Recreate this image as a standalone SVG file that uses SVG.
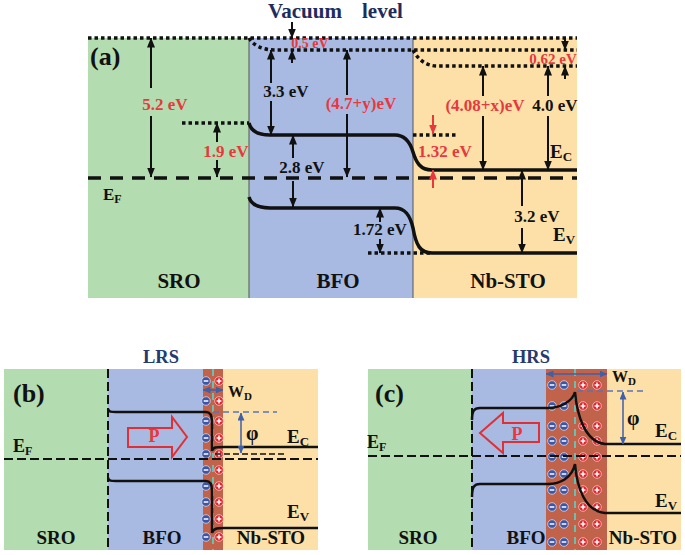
<svg xmlns="http://www.w3.org/2000/svg" width="685" height="555" viewBox="0 0 685 555">
<defs>
<style>
text { font-family: "Liberation Serif","Times New Roman",serif; font-weight: bold; fill: #111; }
.lbl { font-size: 17px; }
.red { fill: #e8383d; }
.navy { fill: #1f2d5e; }
.reg { font-size: 21px; }
.reg2 { font-size: 19px; }
.sub { font-size: 12px; }
.dot { fill: none; stroke: #111; stroke-width: 3.5; stroke-dasharray: 3.5 3; }
.dash { fill: none; stroke: #111; stroke-width: 3.5; stroke-dasharray: 13 9; }
.band { fill: none; stroke: #111; stroke-width: 3.5; }
.arr { stroke: #111; stroke-width: 2; marker-end: url(#ah); }
.arrR { stroke: #e8383d; stroke-width: 2; marker-end: url(#ahr); }
.band2 { fill: none; stroke: #111; stroke-width: 2.5; }
.dash2 { fill: none; stroke: #111; stroke-width: 2; stroke-dasharray: 9 4; }
.dash3 { fill: none; stroke: #111; stroke-width: 1.5; stroke-dasharray: 6 3; }
.teal { stroke: #62c2b4; stroke-width: 2; stroke-dasharray: 7 5; }
.bdash { stroke: #5b73b8; stroke-width: 1.5; stroke-dasharray: 6 4; }
.barr { stroke: #3f5fa8; stroke-width: 1.5; marker-start: url(#ahb); marker-end: url(#ahb); }
.parr { fill: none; stroke: #e03035; stroke-width: 2; }
.green { fill: #b3dcb0; }
.blue { fill: #a8b9e2; }
.yellow { fill: #fde0a8; }
.brown { fill: #c0634a; }
.iface { stroke: #555; stroke-width: 1; }
</style>
<marker id="ah" viewBox="0 0 10 8" refX="9.5" refY="4" markerWidth="10" markerHeight="8" markerUnits="userSpaceOnUse" orient="auto"><path d="M0,0 L10,4 L0,8 z" fill="#111"/></marker>
<marker id="ahr" viewBox="0 0 10 8" refX="9.5" refY="4" markerWidth="10" markerHeight="8" markerUnits="userSpaceOnUse" orient="auto"><path d="M0,0 L10,4 L0,8 z" fill="#e8383d"/></marker>
<marker id="ahb" viewBox="0 0 8 7" refX="7.5" refY="3.5" markerWidth="8" markerHeight="7" markerUnits="userSpaceOnUse" orient="auto-start-reverse"><path d="M0,0 L8,3.5 L0,7 z" fill="#3f5fa8"/></marker>
<g id="mn"><circle r="4.3" fill="#3d55a5" stroke="#d0d8f5" stroke-width="0.8"/><line x1="-2.3" x2="2.3" y1="0" y2="0" stroke="#fff" stroke-width="1.5"/></g>
<g id="pl"><circle r="4.3" fill="#e2262e" stroke="#f8c8c8" stroke-width="0.8"/><path d="M-2.4,0H2.4M0,-2.4V2.4" stroke="#fff" stroke-width="1.5"/></g>
</defs>

<!-- ===== Panel (a) ===== -->
<g id="panel-a">
  <rect class="green" x="88" y="38" width="161" height="260"/>
  <rect class="blue" x="249" y="38" width="164" height="260"/>
  <rect class="yellow" x="413" y="38" width="164" height="260"/>
  <line class="iface" x1="249" y1="38" x2="249" y2="298"/>
  <line class="iface" x1="413" y1="38" x2="413" y2="298"/>
  <text x="268" y="18" font-size="21" class="navy">Vacuum</text>
  <text x="362" y="18" font-size="21" class="navy">level</text>
  <text x="90" y="65" font-size="26">(a)</text>
</g>

<g id="levels-a">
  <line class="dot" x1="88" y1="38" x2="577" y2="38"/>
  <path class="dot" d="M249,38 C253,45 262,50 275,50 L577,50"/>
  <path class="dot" d="M413,50 C417,58 425,66 437,66 L577,66"/>
  <line class="dot" x1="182" y1="123" x2="249" y2="123"/>
  <line class="dot" x1="413" y1="135" x2="456" y2="135"/>
  <line class="dot" x1="368" y1="253" x2="432" y2="253"/>
  <line class="dash" x1="88" y1="178" x2="577" y2="178"/>
  <path class="band" d="M249,123 C251,131 258,135 270,135 L395,135 C405,135 410,142 413,152 C416,162 420,170 432,170 L577,170"/>
  <path class="band" d="M249,197 C251,204 258,208 270,208 L395,208 C405,208 410,215 413,228 C416,245 420,253 432,253 L577,253"/>
</g>

<g id="arrows-a">
  <line class="arr" x1="292" y1="22" x2="292" y2="38"/>
  <line class="arr" x1="292" y1="63" x2="292" y2="50"/>
  <line class="arr" x1="151" y1="88" x2="151" y2="38"/>
  <line class="arr" x1="151" y1="116" x2="151" y2="177"/>
  <line class="arr" x1="217" y1="142" x2="217" y2="123"/>
  <line class="arr" x1="217" y1="160" x2="217" y2="177"/>
  <line class="arr" x1="271" y1="83" x2="271" y2="50"/>
  <line class="arr" x1="271" y1="101" x2="271" y2="135"/>
  <line class="arr" x1="347" y1="95" x2="347" y2="50"/>
  <line class="arr" x1="347" y1="114" x2="347" y2="177"/>
  <line class="arr" x1="293" y1="158" x2="293" y2="135"/>
  <line class="arr" x1="293" y1="181" x2="293" y2="207"/>
  <line class="arr" x1="380" y1="222" x2="380" y2="208"/>
  <line class="arr" x1="380" y1="239" x2="380" y2="253"/>
  <line class="arrR" x1="433" y1="115" x2="433" y2="134"/>
  <line class="arrR" x1="433" y1="188" x2="433" y2="170"/>
  <line class="arr" x1="483" y1="96" x2="483" y2="66"/>
  <line class="arr" x1="483" y1="116" x2="483" y2="170"/>
  <line class="arr" x1="548" y1="96" x2="548" y2="66"/>
  <line class="arr" x1="548" y1="116" x2="548" y2="170"/>
  <line class="arr" x1="565" y1="39" x2="565" y2="50"/>
  <line class="arr" x1="565" y1="79" x2="565" y2="66"/>
  <line class="arr" x1="522" y1="206" x2="522" y2="170"/>
  <line class="arr" x1="522" y1="228" x2="522" y2="253"/>
</g>

<g id="labels-a">
  <text x="310" y="48" font-size="14" class="red" text-anchor="middle">0.5 eV</text>
  <text x="165" y="110" class="lbl red" text-anchor="middle">5.2 eV</text>
  <text x="226" y="157" class="lbl red" text-anchor="middle">1.9 eV</text>
  <text x="286" y="97" class="lbl" text-anchor="middle">3.3 eV</text>
  <text x="361" y="109" class="lbl red" text-anchor="middle">(4.7+y)eV</text>
  <text x="302" y="173" class="lbl" text-anchor="middle">2.8 eV</text>
  <text x="380" y="235" class="lbl" text-anchor="middle">1.72 eV</text>
  <text x="445" y="157" class="lbl red" text-anchor="middle">1.32 eV</text>
  <text x="485" y="111" class="lbl red" text-anchor="middle">(4.08+x)eV</text>
  <text x="555" y="111" class="lbl" text-anchor="middle">4.0 eV</text>
  <text x="553" y="64" font-size="15" class="red" text-anchor="middle">0.62 eV</text>
  <text x="537" y="222" class="lbl" text-anchor="middle">3.2 eV</text>
  <text x="103" y="200" font-size="17">E<tspan class="sub" dy="3">F</tspan></text>
  <text x="550" y="158" font-size="19">E<tspan font-size="13" dy="3">C</tspan></text>
  <text x="553" y="241" font-size="19">E<tspan font-size="13" dy="3">V</tspan></text>
  <text x="179" y="288" class="reg" text-anchor="middle">SRO</text>
  <text x="338" y="288" class="reg" text-anchor="middle">BFO</text>
  <text x="508" y="288" class="reg" text-anchor="middle">Nb-STO</text>
</g>

<!-- ===== Panel (b) ===== -->
<g id="panel-b">
  <rect class="green" x="4" y="369" width="104" height="181"/>
  <rect class="blue" x="108" y="369" width="95" height="181"/>
  <rect class="brown" x="203" y="369" width="20" height="181"/>
  <rect class="yellow" x="223" y="369" width="95" height="181"/>
  <line class="dash2" x1="108" y1="369" x2="108" y2="550"/>
  <line class="teal" x1="213" y1="369" x2="213" y2="550"/>
  <g id="charges-b">
    <use href="#mn" x="206" y="381"/><use href="#pl" x="219" y="381"/>
    <use href="#mn" x="206" y="401"/><use href="#pl" x="219" y="401"/>
    <use href="#mn" x="206" y="421"/><use href="#pl" x="219" y="421"/>
    <use href="#mn" x="206" y="438"/><use href="#pl" x="219" y="438"/>
    <use href="#mn" x="206" y="454"/><use href="#pl" x="219" y="454"/>
    <use href="#mn" x="206" y="470"/><use href="#pl" x="219" y="470"/>
    <use href="#mn" x="206" y="486"/><use href="#pl" x="219" y="486"/>
    <use href="#mn" x="206" y="502"/><use href="#pl" x="219" y="502"/>
    <use href="#mn" x="206" y="519"/><use href="#pl" x="219" y="519"/>
    <use href="#mn" x="206" y="537"/><use href="#pl" x="219" y="537"/>
  </g>
  <line class="dash2" x1="4" y1="459" x2="318" y2="459"/>
  <path class="band2" d="M108,409 C109,412 111,412 116,412 L206,412 C210,412 212,415 212,422 L212,451 C213,447 216,447 224,447 L318,447"/>
  <path class="band2" d="M108,478 C109,481 111,481 116,481 L206,481 C210,481 212,484 212,491 L212,533 C213,529 216,528 224,528 L318,528"/>
  <line class="bdash" x1="213" y1="412" x2="277" y2="412"/>
  <line class="dash3" x1="215" y1="454" x2="285" y2="454"/>
  <line class="barr" x1="241" y1="413" x2="241" y2="453"/>
  <line class="barr" x1="203" y1="390" x2="223" y2="390"/>
  <path class="parr" d="M128,428 L172,428 L172,417 L187,437 L172,457 L172,447 L128,447 Z"/>
  <text x="154" y="442" font-size="18" class="red" text-anchor="middle">P</text>
  <text x="13" y="402" font-size="26">(b)</text>
  <text x="161" y="363" font-size="18.5" class="navy" text-anchor="middle" style="fill:#253a6e">LRS</text>
  <text x="13" y="452" font-size="18">E<tspan class="sub" dy="3">F</tspan></text>
  <text x="228" y="397" font-size="16">W<tspan font-size="11" dy="3">D</tspan></text>
  <text x="246" y="440" font-size="20">φ</text>
  <text x="287" y="443" font-size="19">E<tspan font-size="13" dy="3">C</tspan></text>
  <text x="287" y="518" font-size="19">E<tspan font-size="13" dy="3">V</tspan></text>
  <text x="56" y="544" class="reg2" text-anchor="middle">SRO</text>
  <text x="162" y="544" class="reg2" text-anchor="middle">BFO</text>
  <text x="271" y="544" class="reg2" text-anchor="middle">Nb-STO</text>
</g>

<!-- ===== Panel (c) ===== -->
<g id="panel-c">
  <rect class="green" x="368" y="369" width="104" height="181"/>
  <rect class="blue" x="472" y="369" width="74" height="181"/>
  <rect class="brown" x="546" y="369" width="61" height="181"/>
  <rect class="yellow" x="607" y="369" width="74" height="181"/>
  <line class="dash2" x1="472" y1="369" x2="472" y2="550"/>
  <line class="teal" x1="575" y1="369" x2="575" y2="550"/>
  <g id="charges-c">
    <use href="#mn" x="552" y="385"/><use href="#mn" x="564" y="385"/><use href="#pl" x="583" y="385"/><use href="#pl" x="597" y="385"/>
    <use href="#mn" x="552" y="406"/><use href="#mn" x="564" y="406"/><use href="#pl" x="583" y="406"/><use href="#pl" x="597" y="406"/>
    <use href="#mn" x="552" y="426"/><use href="#mn" x="564" y="426"/><use href="#pl" x="583" y="426"/><use href="#pl" x="597" y="426"/>
    <use href="#mn" x="552" y="441"/><use href="#mn" x="564" y="441"/><use href="#pl" x="583" y="441"/><use href="#pl" x="597" y="441"/>
    <use href="#mn" x="552" y="457"/><use href="#mn" x="564" y="457"/><use href="#pl" x="583" y="457"/><use href="#pl" x="597" y="457"/>
    <use href="#mn" x="552" y="474"/><use href="#mn" x="564" y="474"/><use href="#pl" x="583" y="474"/><use href="#pl" x="597" y="474"/>
    <use href="#mn" x="552" y="490"/><use href="#mn" x="564" y="490"/><use href="#pl" x="583" y="490"/><use href="#pl" x="597" y="490"/>
    <use href="#mn" x="552" y="507"/><use href="#mn" x="564" y="507"/><use href="#pl" x="583" y="507"/><use href="#pl" x="597" y="507"/>
    <use href="#mn" x="552" y="524"/><use href="#mn" x="564" y="524"/><use href="#pl" x="583" y="524"/><use href="#pl" x="597" y="524"/>
    <use href="#mn" x="552" y="542"/><use href="#mn" x="564" y="542"/><use href="#pl" x="583" y="542"/><use href="#pl" x="597" y="542"/>
  </g>
  <line class="dash2" x1="368" y1="456" x2="681" y2="456"/>
  <path class="band2" d="M472,420 C472,411 474,408 480,408 L548,408 C560,408 572,402 575,392 C577,415 585,442 605,444 L681,444"/>
  <path class="band2" d="M472,497 C472,487 474,484 480,484 L548,484 C560,484 572,478 575,464 C577,488 585,511 605,513 L681,513"/>
  <line class="bdash" x1="577" y1="391" x2="645" y2="391"/>
  <line class="barr" x1="623" y1="392" x2="623" y2="444"/>
  <line class="barr" x1="546" y1="374" x2="607" y2="374"/>
  <path class="parr" d="M539,423 L503,423 L503,413 L480,433 L503,453 L503,442 L539,442 Z"/>
  <text x="517" y="440" font-size="18" class="red" text-anchor="middle">P</text>
  <text x="375" y="402" font-size="26">(c)</text>
  <text x="531" y="363" font-size="18.5" text-anchor="middle" style="fill:#253a6e">HRS</text>
  <text x="367" y="448" font-size="18">E<tspan class="sub" dy="3">F</tspan></text>
  <text x="612" y="382" font-size="16">W<tspan font-size="11" dy="3">D</tspan></text>
  <text x="627" y="425" font-size="20">φ</text>
  <text x="655" y="437" font-size="19">E<tspan font-size="13" dy="3">C</tspan></text>
  <text x="655" y="507" font-size="19">E<tspan font-size="13" dy="3">V</tspan></text>
  <text x="418" y="544" class="reg2" text-anchor="middle">SRO</text>
  <text x="526" y="544" class="reg2" text-anchor="middle">BFO</text>
  <text x="643" y="544" class="reg2" text-anchor="middle">Nb-STO</text>
</g>
</svg>
